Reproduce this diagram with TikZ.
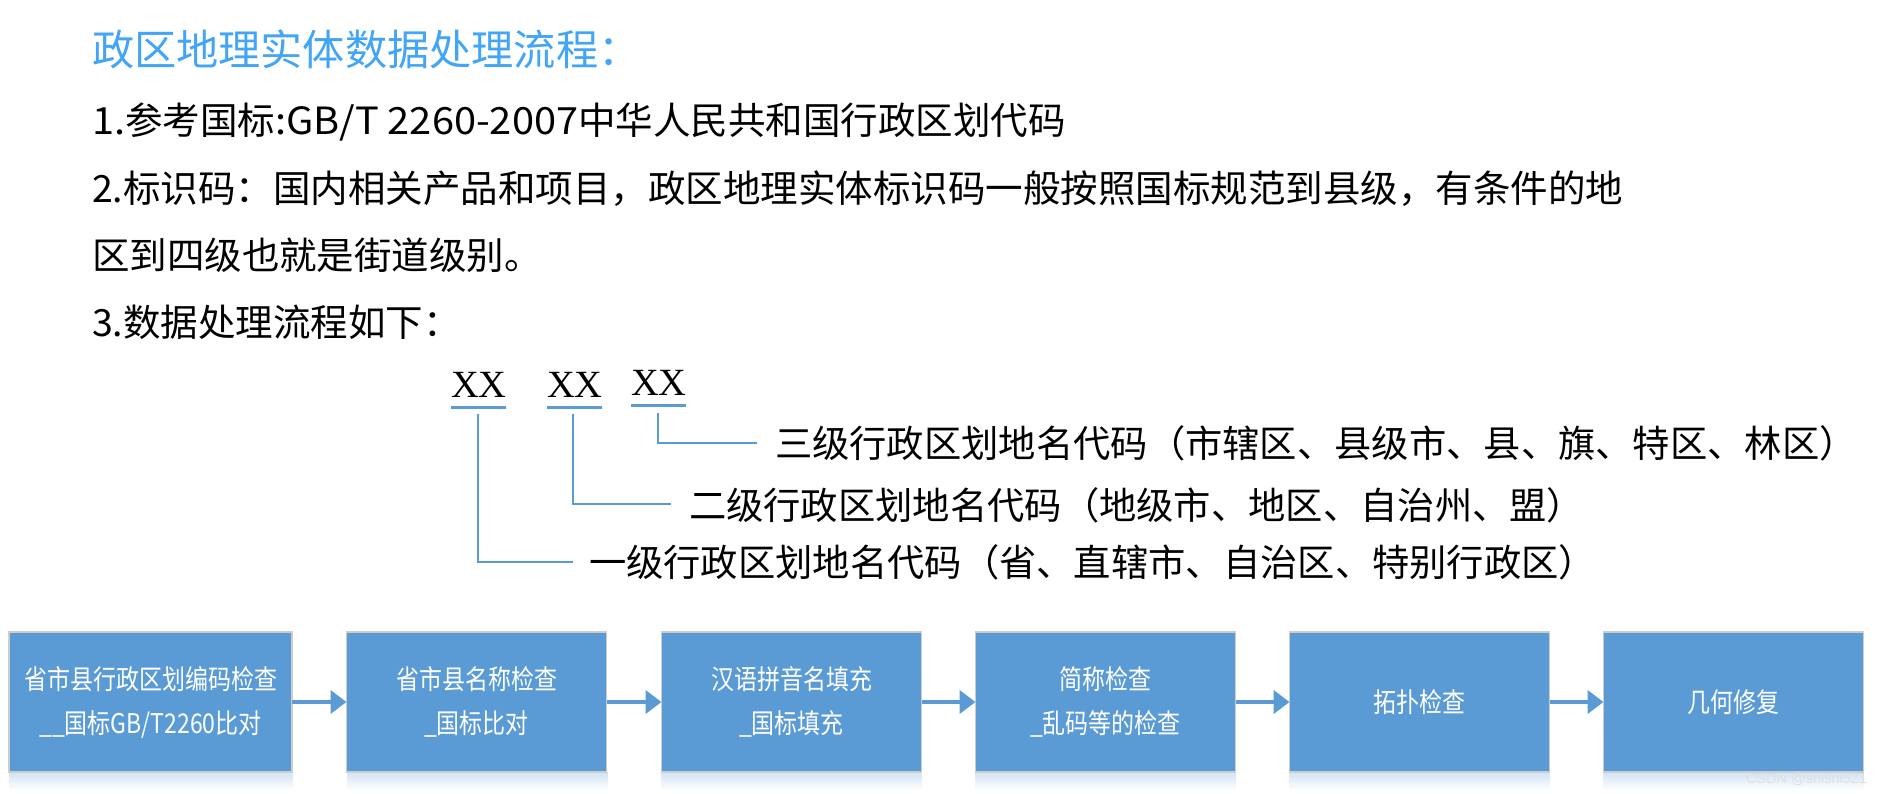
\documentclass[tikz,border=0pt]{standalone}
\usepackage{fontspec}
\usepackage{graphicx}
\setmainfont{Liberation Serif}
\newfontfamily\cjk{Noto Sans CJK SC}
\newfontfamily\wmfont{Liberation Sans}
\usetikzlibrary{arrows.meta}
\definecolor{titleblue}{RGB}{66,165,245}
\definecolor{boxblue}{RGB}{91,155,213}
\definecolor{boxedge}{RGB}{205,205,205}
\definecolor{linkblue}{RGB}{91,155,213}
\newcommand{\bt}[1]{\scalebox{1}[1.18]{#1}}
\newcommand{\wl}[1]{\scalebox{1.06}[1]{#1}}
\begin{document}
\begin{tikzpicture}[x=1pt,y=-1pt,
  every node/.style={inner sep=0pt, outer sep=0pt},
  heading/.style={anchor=base west, text=titleblue, font=\cjk\fontsize{42.2}{48}\selectfont},
  bodyline/.style={anchor=base west, font=\cjk\fontsize{37.5}{44}\selectfont},
  codelabel/.style={anchor=base west, font=\cjk\fontsize{37.3}{44}\selectfont},
  code/.style={anchor=base west, font=\fontsize{38.5}{44}\selectfont},
  codebar/.style={draw=linkblue, line width=2.7pt},
  link/.style={draw=linkblue, line width=1.5pt},
  stepbox/.style={draw=boxedge, line width=1.5pt, fill=boxblue, text=white,
    minimum height=140pt, minimum width=260pt, align=center,
    font=\cjk\fontsize{23}{44}\selectfont},
  flow/.style={draw=boxblue, line width=4pt, -{Triangle[length=16pt,width=23pt]}},
  boxshade/.style={top color=boxblue!28, bottom color=white, draw=none},
  watermark/.style={anchor=base west, text=black!12, font=\wmfont\fontsize{14.5}{16}\selectfont},
]
\useasboundingbox (0,0) rectangle (1883,793);
\fill[white] (0,0) rectangle (1883,793);

% heading and text lines
\node[heading] (title) at (92,65) {政区地理实体数据处理流程：};
\node[bodyline] (l1) at (92,134) {\wl{1.}参考国标\wl{:GB/T 2260-2007}中华人民共和国行政区划代码};
\node[bodyline] (l2) at (92,202) {2.标识码：国内相关产品和项目，政区地理实体标识码一般按照国标规范到县级，有条件的地};
\node[bodyline] (l3) at (92,269) {区到四级也就是街道级别。};
\node[bodyline] (l4) at (92,336) {3.数据处理流程如下：};

% code digits
\node[code] (xx1) at (451,397) {XX};
\node[code] (xx2) at (547,397) {XX};
\node[code] (xx3) at (631,395) {XX};
\draw[codebar] (451,407.3) -- (505.5,407.3);
\draw[codebar] (547,407.3) -- (601.5,407.3);
\draw[codebar] (631,405.3) -- (685.5,405.3);

% labels
\node[codelabel] (lab3) at (775,457.5) {三级行政区划地名代码（市辖区、县级市、县、旗、特区、林区）};
\node[codelabel] (lab2) at (689,519.5) {二级行政区划地名代码（地级市、地区、自治州、盟）};
\node[codelabel] (lab1) at (589,576.5) {一级行政区划地名代码（省、直辖市、自治区、特别行政区）};

\coordinate (s3) at (658,413);
\coordinate (e3) at (757,443);
\coordinate (s2) at (573,414);
\coordinate (e2) at (671,504);
\coordinate (s1) at (478,414);
\coordinate (e1) at (573,562);
\draw[link] (s3) |- (e3);
\draw[link] (s2) |- (e2);
\draw[link] (s1) |- (e1);

% shadows under boxes
\shade[boxshade] (9,772) rectangle (293,790);
\foreach \xa in {347,661,975,1289,1603}{
  \shade[boxshade] (\xa,772) rectangle ({\xa+261},790);
}

% process boxes
\node[stepbox, minimum width=283pt] (b1) at (150.5,702) {\bt{省市县行政区划编码检查}\\\bt{\_\_国标GB/T2260比对}};
\node[stepbox] (b2) at (476.5,702) {\bt{省市县名称检查}\\\bt{\_国标比对}};
\node[stepbox] (b3) at (791.5,702) {\bt{汉语拼音名填充}\\\bt{\_国标填充}};
\node[stepbox] (b4) at (1105.5,702) {\bt{简称检查}\\\bt{\_乱码等的检查}};
\node[stepbox] (b5) at (1419.5,702) {\bt{拓扑检查}};
\node[stepbox] (b6) at (1733.5,702) {\bt{几何修复}};

\draw[flow] (b1.east) -- (b2.west);
\draw[flow] (b2.east) -- (b3.west);
\draw[flow] (b3.east) -- (b4.west);
\draw[flow] (b4.east) -- (b5.west);
\draw[flow] (b5.east) -- (b6.west);

\node[watermark] (wm) at (1746,783) {CSDN @shishi521};
\end{tikzpicture}
\end{document}
